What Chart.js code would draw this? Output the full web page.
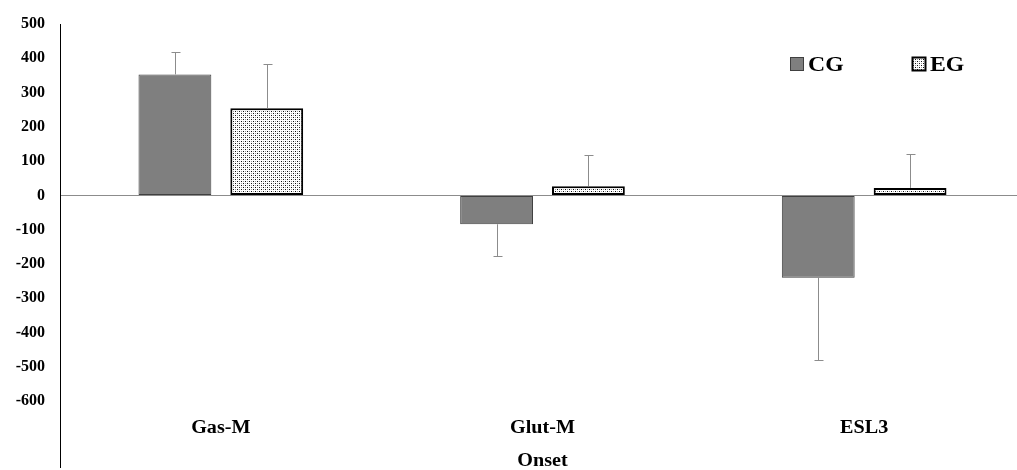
<!DOCTYPE html>
<html lang="en">
<head>
    <meta charset="UTF-8">
    <title>Onset</title>
    <script src="https://cdn.jsdelivr.net/npm/chart.js"></script>
    <style>
        html, body { margin: 0; padding: 0; overflow: hidden; background: #fff; }
    </style>
</head>
<body>
    <canvas id="onsetChart" width="1025" height="470"></canvas>

    <script>
        // data
        const categories = ['Gas-M', 'Glut-M', 'ESL3'];
        const seriesNames = ['CG', 'EG'];
        const cgValues = [353, -84, -240];
        const egValues = [254, 27, 22];
        const cgErrors = [66, 93, 241];
        const egErrors = [129, 92, 98];
        const yTicks = [500, 400, 300, 200, 100, 0, -100, -200, -300, -400, -500, -600];
        const axisTitle = 'Onset';

        const FONT = '"Liberation Serif", "Times New Roman", serif';

        // dotted fill for EG
        function makeDots() {
            const c = document.createElement('canvas');
            c.width = 4; c.height = 4;
            const g = c.getContext('2d');
            g.fillStyle = '#fff';
            g.fillRect(0, 0, 4, 4);
            g.fillStyle = '#111';
            g.fillRect(1, 1, 1, 1);
            g.fillRect(3, 3, 1, 1);
            g.fillStyle = '#9a9a9a';
            g.fillRect(3, 1, 1, 1);
            g.fillRect(1, 3, 1, 1);
            return g.createPattern(c, 'repeat');
        }
        const dots = makeDots();

        // text a little wider, like the stretched original
        function wideText(ctx, txt, cx, cy, sx) {
            ctx.save();
            ctx.translate(cx, cy);
            ctx.scale(sx, 1);
            ctx.fillText(txt, 0, 0);
            ctx.restore();
        }

        const extras = {
            id: 'extras',
            afterDatasetsDraw(chart) {
                const ctx = chart.ctx;
                const y = chart.scales.y;
                const x = chart.scales.x;
                ctx.save();

                // error bars, drawn away from zero
                const errs = [cgErrors, egErrors];
                chart.data.datasets.forEach((ds, di) => {
                    const meta = chart.getDatasetMeta(di);
                    meta.data.forEach((bar, i) => {
                        const v = ds.data[i];
                        const end = v >= 0 ? v + errs[di][i] : v - errs[di][i];
                        const y0 = y.getPixelForValue(v);
                        const y1 = Math.round(y.getPixelForValue(end)) + 0.5;
                        const bx = Math.round(bar.x) + 0.5;
                        ctx.strokeStyle = '#8c8c8c';
                        ctx.lineWidth = 1;
                        ctx.beginPath();
                        ctx.moveTo(bx, y0);
                        ctx.lineTo(bx, y1);
                        ctx.moveTo(bx - 4, y1);
                        ctx.lineTo(bx + 5, y1);
                        ctx.stroke();
                    });
                });

                // category labels and axis title low in the plot
                ctx.fillStyle = '#000';
                ctx.font = 'bold 18px ' + FONT;
                ctx.textAlign = 'center';
                ctx.textBaseline = 'middle';
                categories.forEach((c, i) => {
                    wideText(ctx, c, x.getPixelForValue(i), 428, 1.12);
                });
                wideText(ctx, axisTitle, x.getPixelForValue(1), 461, 1.12);

                // legend
                const items = [
                    { name: seriesNames[0], fill: '#7f7f7f', stroke: '#404040', lw: 1, bx: 790 },
                    { name: seriesNames[1], fill: dots, stroke: '#000', lw: 2, bx: 912 }
                ];
                ctx.font = 'bold 22px ' + FONT;
                ctx.textAlign = 'left';
                items.forEach(it => {
                    ctx.fillStyle = it.fill;
                    ctx.fillRect(it.bx, 57, 13, 13);
                    ctx.strokeStyle = it.stroke;
                    ctx.lineWidth = it.lw;
                    ctx.strokeRect(it.bx + 0.5, 57.5, 13, 13);
                    ctx.fillStyle = '#000';
                    wideText(ctx, it.name, it.bx + 18, 65, 1.08);
                });
                ctx.restore();
            }
        };

        new Chart(document.getElementById('onsetChart'), {
            type: 'bar',
            data: {
                labels: categories,
                datasets: [
                    {
                        label: seriesNames[0],
                        data: cgValues,
                        backgroundColor: '#7f7f7f',
                        borderColor: '#404040',
                        borderWidth: 1,
                        borderSkipped: false
                    },
                    {
                        label: seriesNames[1],
                        data: egValues,
                        backgroundColor: dots,
                        borderColor: '#000',
                        borderWidth: 2,
                        borderSkipped: false
                    }
                ]
            },
            options: {
                responsive: false,
                animation: false,
                categoryPercentage: 0.571,
                barPercentage: 0.793,
                layout: { padding: { top: 24, bottom: 3, right: 0, left: 0 } },
                plugins: {
                    legend: { display: false },
                    tooltip: { enabled: false }
                },
                scales: {
                    x: {
                        display: false,
                        grid: { display: false }
                    },
                    y: {
                        min: -792,
                        max: 500,
                        afterFit: s => {
                            s.width = 60;
                            s.paddingTop = 0;
                            s.paddingBottom = 0;
                        },
                        afterBuildTicks: s => {
                            s.ticks = yTicks.slice().reverse().map(v => ({ value: v }));
                        },
                        border: { display: true, color: '#000', width: 1 },
                        grid: {
                            drawTicks: false,
                            color: c => (c.tick && c.tick.value === 0) ? '#8c8c8c' : 'rgba(0,0,0,0)',
                            lineWidth: 1
                        },
                        ticks: {
                            padding: 15,
                            color: '#000',
                            font: { family: FONT, size: 16, weight: 'bold' },
                            callback: v => String(v)
                        }
                    }
                }
            },
            plugins: [extras]
        });
    </script>
</body>
</html>
